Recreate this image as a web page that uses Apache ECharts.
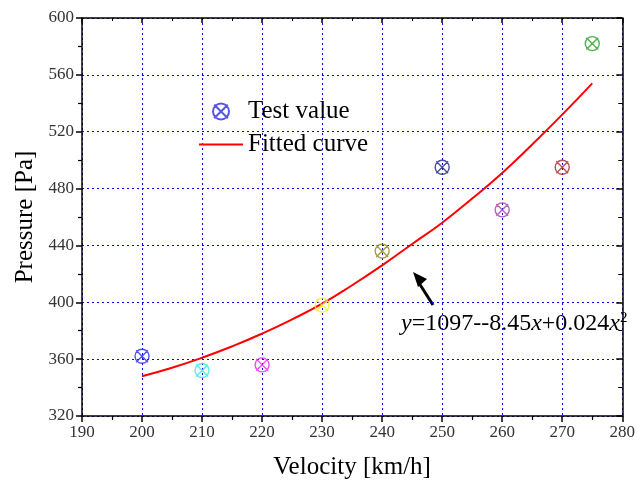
<!DOCTYPE html>
<html><head><meta charset="utf-8">
<script src="https://cdn.jsdelivr.net/npm/echarts@6/dist/echarts.min.js"></script>
<style>html,body{margin:0;padding:0;background:#fff}#c{width:638px;height:485px}</style>
</head><body><div id="c"></div>
<script>
const velocities = [200, 210, 220, 230, 240, 250, 260, 270, 275];
const pressures = [362, 352, 356, 398, 436, 495, 465, 495, 582];
const markerColors = ['#2a2ae0', '#30e8e8', '#f020f0', '#f0f020', '#8a8a10', '#202080', '#a040a0', '#a02828', '#20a020'];
const fitX = [200, 205, 210, 215, 220, 225, 230, 235, 240, 245, 250, 255, 260, 265, 270, 275];
const fitY = [348, 354, 361, 369, 378, 388, 399, 412, 426, 441, 456, 473, 491, 511, 532, 554];

const FONT = '"Liberation Serif","Times New Roman",serif';
const markerPath = 'path://M0,-10 A10,10 0 1,1 0,10 A10,10 0 1,1 0,-10 Z M-8.5,-8.5 L8.5,8.5 M8.5,-8.5 L-8.5,8.5';

const chart = echarts.init(document.getElementById('c'));
const gridLine = {show: true, lineStyle: {color: '#0000ff', type: [2, 3], width: 1}};
const axLine = {show: true, onZero: false, lineStyle: {color: '#000', width: 1.5}};
chart.setOption({
  animation: false,
  grid: {left: 82, right: 11, top: 18, bottom: 68},
  legend: {
    orient: 'vertical', left: 193, top: 94, itemWidth: 44, itemHeight: 16, itemGap: 8, itemTextGap: 6,
    textStyle: {fontFamily: FONT, fontSize: 25, color: '#000', lineHeight: 25},
    data: [
      {name: 'Test value', icon: markerPath},
      {name: 'Fitted curve', itemStyle: {color: 'rgba(0,0,0,0)', borderWidth: 0}}
    ]
  },
  xAxis: [{
    type: 'value', min: 190, max: 280, interval: 10, position: 'bottom',
    name: 'Velocity [km/h]', nameLocation: 'middle', nameGap: 39,
    nameTextStyle: {fontFamily: FONT, fontSize: 25, color: '#000'},
    axisLine: axLine,
    axisTick: {show: true, inside: false, length: 6, lineStyle: {color: '#000', width: 1.5}},
    minorTick: {show: true, splitNumber: 2, length: 4, lineStyle: {color: '#000', width: 1.2}},
    axisLabel: {fontFamily: FONT, fontSize: 17, color: '#333', margin: 8},
    splitLine: gridLine
  }, {
    type: 'value', min: 190, max: 280, interval: 10, position: 'top',
    axisLine: axLine,
    axisTick: {show: true, inside: true, length: 5, lineStyle: {color: '#000', width: 1.5}},
    minorTick: {show: true, splitNumber: 2, length: 3, lineStyle: {color: '#000'}},
    axisLabel: {show: false}, splitLine: {show: false}
  }],
  yAxis: [{
    type: 'value', min: 320, max: 600, interval: 40, position: 'left',
    name: 'Pressure [Pa]', nameLocation: 'middle', nameGap: 42,
    nameTextStyle: {fontFamily: FONT, fontSize: 25, color: '#000'},
    axisLine: axLine,
    axisTick: {show: true, inside: false, length: 6, lineStyle: {color: '#000', width: 1.5}},
    minorTick: {show: true, splitNumber: 2, length: 4, lineStyle: {color: '#000', width: 1.2}},
    axisLabel: {fontFamily: FONT, fontSize: 17, color: '#333', margin: 8},
    splitLine: gridLine
  }, {
    type: 'value', min: 320, max: 600, interval: 40, position: 'right',
    axisLine: axLine,
    axisTick: {show: true, inside: true, length: 6, lineStyle: {color: '#000', width: 1.5}},
    minorTick: {show: true, splitNumber: 2, length: 4, lineStyle: {color: '#000'}},
    axisLabel: {show: false}, splitLine: {show: false}
  }],
  series: [{
    name: 'Fitted curve', type: 'line', smooth: 0.5, symbol: 'none',
    lineStyle: {color: '#ff0000', width: 2}, itemStyle: {color: '#ff0000'},
    data: fitX.map((x, i) => [x, fitY[i]]), z: 2
  }, {
    name: 'Test value', type: 'scatter', symbol: markerPath, symbolSize: 14,
    itemStyle: {color: 'rgba(0,0,0,0)', borderColor: '#2a2ae0', borderWidth: 1.4},
    data: velocities.map((x, i) => ({value: [x, pressures[i]], itemStyle: {color: 'rgba(0,0,0,0)', borderColor: markerColors[i], borderWidth: 1.4}})),
    z: 3
  }],
  graphic: [{
    type: 'line', shape: {x1: 433, y1: 305, x2: 419, y2: 283},
    style: {stroke: '#000', lineWidth: 3}
  }, {
    type: 'polygon', shape: {points: [[413, 272], [427, 279], [418, 287]]},
    style: {fill: '#000'}
  }, {
    type: 'text', left: 401, top: 311,
    style: {
      text: '{i|y}=1097--8.45{i|x}+0.024{i|x}{s|2}',
      fontFamily: FONT, fontSize: 24, fill: '#000',
      rich: {i: {fontStyle: 'italic', fontFamily: FONT, fontSize: 24}, s: {fontFamily: FONT, fontSize: 15, verticalAlign: 'top', padding: [0, 0, 10, 0]}}
    }
  }]
});
</script></body></html>
